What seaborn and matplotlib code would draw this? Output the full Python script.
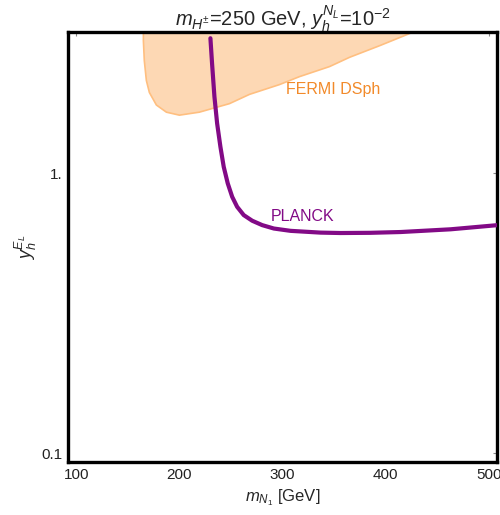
import matplotlib
matplotlib.use("Agg")
import matplotlib.pyplot as plt
import matplotlib.ticker as mticker
import numpy as np
import pandas as pd
import seaborn as sns

# Relic-density (PLANCK) curve: m_N1 [GeV] vs y_h^{E_L}
planck_m = [230.1, 231.7, 234.0, 236.6, 239.8, 243.0, 246.9, 251.2, 256.0,
            262.4, 270.6, 280.3, 291.6, 307.8, 336.9, 356.3, 385.0, 414.6,
            463.1, 508.7]
planck_y = [3.03, 2.46, 1.873, 1.505, 1.241, 1.053, 0.919, 0.823, 0.758,
            0.708, 0.676, 0.652, 0.634, 0.622, 0.613, 0.611, 0.612, 0.616,
            0.630, 0.652]

# FERMI dwarf-spheroidal exclusion region boundary
fermi_m = [165.1, 165.1, 166.0, 168.0, 170.9, 177.7, 187.4, 200.0, 219.4,
           248.6, 268.0, 297.1, 316.5, 345.6, 365.0, 394.2, 423.3, 442.7]
fermi_y = [4.0, 2.97, 2.52, 2.14, 1.94, 1.75, 1.65, 1.61, 1.65,
           1.77, 1.91, 2.07, 2.21, 2.40, 2.59, 2.85, 3.15, 4.0]

x_ticks = [100, 200, 300, 400, 500]
y_ticks = [0.1, 1.0]
y_tick_labels = ["0.1", "1."]

sns.set_style("white")
plt.rcParams["font.family"] = ["Liberation Sans", "DejaVu Sans"]
plt.rcParams["mathtext.fontset"] = "custom"
plt.rcParams["mathtext.rm"] = "Liberation Sans"
plt.rcParams["mathtext.it"] = "Liberation Sans:italic"
plt.rcParams["mathtext.bf"] = "Liberation Sans:bold"

fig = plt.figure(figsize=(5.0, 5.15), dpi=100)
ax = fig.add_axes([0.136, 0.1029, 0.858, 0.835])

ax.fill(fermi_m, fermi_y, facecolor="#fdd8b4", edgecolor="#ffbf80",
        linewidth=1.2, zorder=1)

planck = pd.DataFrame({"m": planck_m, "y": planck_y})
sns.lineplot(data=planck, x="m", y="y", ax=ax, color="#820a86",
             linewidth=3.0, sort=False, zorder=3)

ax.set_yscale("log")
ax.set_xlim(92, 508)
ax.set_ylim(0.093, 3.19)

ax.set_xticks(x_ticks)
ax.set_xticklabels([str(v) for v in x_ticks])
ax.yaxis.set_major_locator(mticker.FixedLocator(y_ticks))
ax.yaxis.set_minor_locator(mticker.NullLocator())
ax.set_yticklabels(y_tick_labels)
ax.tick_params(axis="both", which="major", direction="in", length=3,
               width=0.8, color="#888888", labelsize=11, labelcolor="#222222",
               top=True, right=True, pad=4)

for s in ax.spines.values():
    s.set_linewidth(2.4)
    s.set_color("black")

ax.text(319, 0.70, "PLANCK", color="#820a86", fontsize=11.5,
        ha="center", va="center")
ax.text(349.5, 1.98, "FERMI DSph", color="#f28a2a", fontsize=11.5,
        ha="center", va="center")

ax.set_xlabel(r"$m_{N_1}$ [GeV]", fontsize=12, labelpad=4)
ax.set_ylabel(r"$y_h^{E_L}$", fontsize=13, labelpad=2)
ax.set_title(r"$m_{H^{\pm}}$=250 GeV, $y_h^{N_L}$=10$^{-2}$",
             fontsize=14.5, pad=4)

fig.savefig("out.png", dpi=100)
